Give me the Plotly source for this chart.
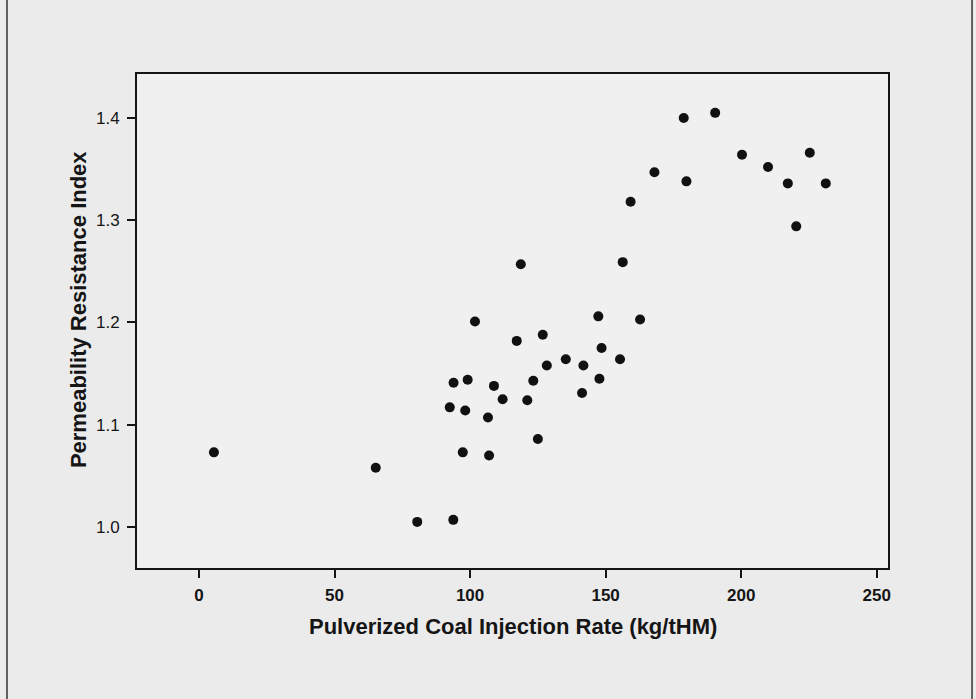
import plotly.graph_objects as go

# Data
pci_rate = [5.5, 65.2, 80.5, 93.8, 92.5, 93.9, 97.3, 98.2, 99.1, 101.8,
            106.6, 107.0, 108.8, 112.0, 117.2, 118.7, 121.1, 123.3, 125.0, 126.8,
            128.3, 135.3, 141.3, 141.8, 147.3, 147.7, 148.5, 155.3, 156.3, 162.7,
            159.2, 168.0, 178.8, 179.8, 190.4, 200.3, 209.9, 217.2, 220.3, 225.3,
            231.2]
pri = [1.073, 1.058, 1.005, 1.007, 1.117, 1.141, 1.073, 1.114, 1.144, 1.201,
       1.107, 1.070, 1.138, 1.125, 1.182, 1.257, 1.124, 1.143, 1.086, 1.188,
       1.158, 1.164, 1.131, 1.158, 1.206, 1.145, 1.175, 1.164, 1.259, 1.203,
       1.318, 1.347, 1.400, 1.338, 1.405, 1.364, 1.352, 1.336, 1.294, 1.366,
       1.336]

x_ticks = [0, 50, 100, 150, 200, 250]
x_tick_labels = ["<b>0</b>", "<b>50</b>", "<b>100</b>", "<b>150</b>", "<b>200</b>", "<b>250</b>"]
y_ticks = [1.0, 1.1, 1.2, 1.3, 1.4]
y_tick_labels = ["1.0", "1.1", "1.2", "1.3", "1.4"]

x_title = "Pulverized Coal Injection Rate (kg/tHM)"
y_title = "Permeability Resistance Index"

fig = go.Figure()
fig.add_trace(go.Scatter(
    x=pci_rate, y=pri, mode="markers",
    marker=dict(size=10, color="#111111", line=dict(width=0)),
    showlegend=False,
))

ink = "#151515"
fnt = "Liberation Sans, Arial, sans-serif"
fig.update_layout(
    width=976, height=699,
    margin=dict(l=137, r=88, t=74, b=131),
    paper_bgcolor="#ebebeb",
    plot_bgcolor="#f0f0f0",
    font=dict(family=fnt, size=17, color=ink),
    xaxis=dict(
        range=[-22.87, 254.15], tickvals=x_ticks, ticktext=x_tick_labels,
        ticks="outside", ticklen=8,
        tickwidth=1.5, tickcolor=ink, showline=True, linewidth=2, linecolor=ink,
        mirror=True, showgrid=False, zeroline=False, ticklabelstandoff=3,
        tickfont=dict(family=fnt, size=17, color=ink),
    ),
    yaxis=dict(
        range=[0.9599, 1.443], tickvals=y_ticks, ticktext=y_tick_labels, ticks="outside",
        ticklen=8, tickwidth=1.5, tickcolor=ink, showline=True, linewidth=2,
        linecolor=ink, mirror=True, showgrid=False, zeroline=False, ticklabelstandoff=4,
        tickfont=dict(family=fnt, size=17, color=ink),
    ),
    annotations=[
        dict(text="<b>" + x_title + "</b>", xref="paper", yref="paper",
             x=0.5, y=-0.1194, xanchor="center", yanchor="middle", showarrow=False,
             font=dict(family=fnt, size=22, color=ink)),
        dict(text="<b>" + y_title + "</b>", xref="paper", yref="paper",
             x=-0.0786, y=0.524, xanchor="center", yanchor="middle", showarrow=False,
             textangle=-90,
             font=dict(family=fnt, size=22, color=ink)),
    ],
    shapes=[
        dict(type="line", xref="paper", yref="paper", x0=-0.1731, x1=-0.1731,
             y0=-0.27, y1=1.16, line=dict(color="#333333", width=1.5)),
        dict(type="line", xref="paper", yref="paper", x0=1.1119, x1=1.1119,
             y0=-0.27, y1=1.16, line=dict(color="#333333", width=1.5)),
    ],
)

fig.write_html("out.html")
